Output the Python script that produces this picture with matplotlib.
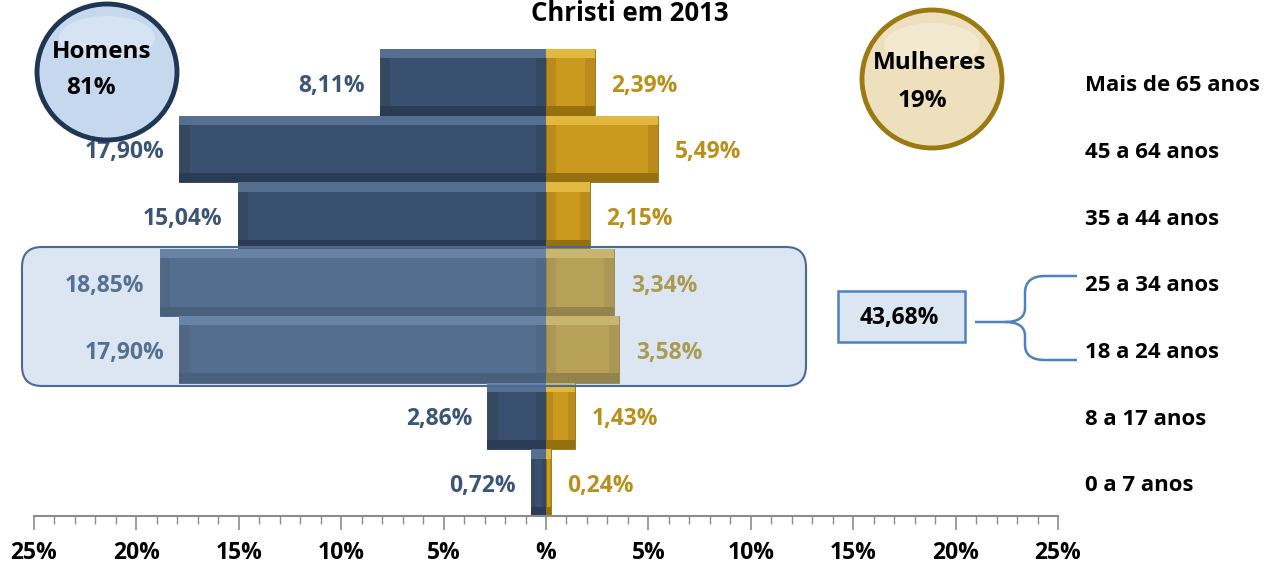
import matplotlib
matplotlib.use("Agg")
import matplotlib.pyplot as plt
from matplotlib.patches import Ellipse, FancyBboxPatch, Rectangle, PathPatch
from matplotlib.path import Path

# ---------------- data ----------------
categories = ["0 a 7 anos", "8 a 17 anos", "18 a 24 anos", "25 a 34 anos",
              "35 a 44 anos", "45 a 64 anos", "Mais de 65 anos"]
homens = [0.72, 2.86, 17.90, 18.85, 15.04, 17.90, 8.11]
mulheres = [0.24, 1.43, 3.58, 3.34, 2.15, 5.49, 2.39]
tick_values = [-25, -20, -15, -10, -5, 0, 5, 10, 15, 20, 25]
tick_labels = ["25%", "20%", "15%", "10%", "5%", "%", "5%", "10%", "15%", "20%", "25%"]
total_homens = "81%"
total_mulheres = "19%"
destaque = "43,68%"
title = "Christi em 2013"

W, H = 1281, 564
FONT = "Open Sans"
plt.rcParams["font.family"] = [FONT, "DejaVu Sans"]
plt.rcParams["font.weight"] = "bold"

fig = plt.figure(figsize=(W / 100, H / 100), dpi=100)
fig.patch.set_facecolor("white")


def fx(x):
    return x / W


def fy(y):
    return 1 - y / H


ax = fig.add_axes([fx(34), 48 / H, 1024 / W, 467 / H])
ax.set_xlim(-25, 25)
ax.set_ylim(-0.5, len(categories) - 0.5)

ypos = list(range(len(categories)))

men_face, men_top, men_bot, men_side = "#3A5070", "#566F90", "#2A3C55", "#34485F"
wom_face, wom_top, wom_bot, wom_side = "#C99A1E", "#E2B840", "#94700E", "#BA8B1A"


def draw_bars(values, sign, face, top, bot, side):
    neg = [sign * v for v in values]
    ax.barh(ypos, neg, height=1.0, color=side, edgecolor=bot, linewidth=0.6, zorder=2)
    ax.barh([y + 0.43 for y in ypos], neg, height=0.14, color=top, linewidth=0, zorder=2.1)
    ax.barh([y - 0.43 for y in ypos], neg, height=0.14, color=bot, linewidth=0, zorder=2.1)
    insets = [min(0.5, v * 0.25) for v in values]
    lefts = [sign * i for i in insets]
    widths = [sign * (v - 2 * i) for v, i in zip(values, insets)]
    ax.barh(ypos, widths, left=lefts, height=0.72, color=face, linewidth=0, zorder=2.2)


draw_bars(homens, -1, men_face, men_top, men_bot, men_side)
draw_bars(mulheres, 1, wom_face, wom_top, wom_bot, wom_side)

lab_fs = 16.5
for y, v in zip(ypos, homens):
    ax.text(-v - 0.75, y - 0.05, f"{v:.2f}%".replace(".", ","), ha="right", va="center",
            color="#3A5575", fontsize=lab_fs, fontweight="bold", zorder=3)
for y, v in zip(ypos, mulheres):
    ax.text(v + 0.8, y - 0.05, f"{v:.2f}%".replace(".", ","), ha="left", va="center",
            color="#B8901A", fontsize=lab_fs, fontweight="bold", zorder=3)

for y, c in zip(ypos, categories):
    ax.text(26.3, y - 0.05, c, ha="left", va="center", color="black",
            fontsize=16, fontweight="bold", clip_on=False)

for s in ["top", "left", "right"]:
    ax.spines[s].set_visible(False)
ax.spines["bottom"].set_color("#8C8C8C")
ax.spines["bottom"].set_linewidth(1.5)
ax.set_yticks([])
ax.set_xticks(tick_values)
ax.set_xticklabels(tick_labels, fontsize=16.5, fontweight="bold")
ax.set_xticks(range(-25, 26), minor=True)
ax.tick_params(axis="x", which="major", length=10, width=1.2, color="#8C8C8C", pad=8)
ax.tick_params(axis="x", which="minor", length=6, width=1.0, color="#8C8C8C")
ax.patch.set_alpha(0)

# highlight box (semi-transparent over bars)
bx0, by0, bx1, by1 = 22, 247, 806, 386
box = FancyBboxPatch((fx(bx0), fy(by1)), fx(bx1 - bx0), (by1 - by0) / H,
                     boxstyle=f"round,pad=0,rounding_size={20 / W}",
                     mutation_aspect=W / H, transform=fig.transFigure,
                     facecolor=(144 / 255, 176 / 255, 214 / 255, 0.315),
                     edgecolor="#4A6A95", linewidth=1.5, zorder=5)
fig.add_artist(box)

# 43,68% box
rb = Rectangle((fx(838), fy(342)), fx(965 - 838), (342 - 291) / H, transform=fig.transFigure,
               facecolor="#DCE6F2", edgecolor="#4F81BD", linewidth=1.8, zorder=5)
fig.add_artist(rb)
fig.text(fx(899), fy(318), destaque, ha="center", va="center", fontsize=16.5,
         fontweight="bold", color="black", zorder=6)

# brace
pts = [(1077, 276), (1045, 276), (1025, 276), (1025, 293), (1025, 308), (1025, 322), (1005, 322),
       (975, 322)]
codes_top = [Path.MOVETO, Path.LINETO, Path.CURVE3, Path.CURVE3, Path.LINETO, Path.CURVE3,
             Path.CURVE3, Path.LINETO]
pts2 = [(1005, 322), (1025, 322), (1025, 336), (1025, 345), (1025, 360), (1045, 360), (1077, 360)]
codes_bot = [Path.MOVETO, Path.CURVE3, Path.CURVE3, Path.LINETO, Path.CURVE3, Path.CURVE3,
             Path.LINETO]
for p, c in [(pts, codes_top), (pts2, codes_bot)]:
    path = Path([(fx(x), fy(y)) for x, y in p], c)
    fig.add_artist(PathPatch(path, transform=fig.transFigure, facecolor="none",
                             edgecolor="#4F81BD", linewidth=1.8, zorder=5))

# circles
c1 = Ellipse((fx(107), fy(72)), 140 / W, 136 / H, transform=fig.transFigure,
             facecolor="#C5D8EE", edgecolor="#1F3655", linewidth=3.5, zorder=6)
fig.add_artist(c1)
g1 = Ellipse((fx(107), fy(38)), 96 / W, 44 / H, transform=fig.transFigure,
             facecolor="white", alpha=0.3, linewidth=0, zorder=6.1)
fig.add_artist(g1)
fig.text(fx(102), fy(52), "Homens", ha="center", va="center", fontsize=17.5,
         fontweight="bold", color="black", zorder=7)
fig.text(fx(91), fy(88), total_homens, ha="center", va="center", fontsize=17.5,
         fontweight="bold", color="black", zorder=7)

c2 = Ellipse((fx(932), fy(79)), 140 / W, 138 / H, transform=fig.transFigure,
             facecolor="#EEE0BC", edgecolor="#9C7A12", linewidth=3.5, zorder=6)
fig.add_artist(c2)
g2 = Ellipse((fx(932), fy(45)), 96 / W, 44 / H, transform=fig.transFigure,
             facecolor="white", alpha=0.3, linewidth=0, zorder=6.1)
fig.add_artist(g2)
fig.text(fx(930), fy(63), "Mulheres", ha="center", va="center", fontsize=17.5,
         fontweight="bold", color="black", zorder=7)
fig.text(fx(922), fy(101), total_mulheres, ha="center", va="center", fontsize=17.5,
         fontweight="bold", color="black", zorder=7)

# title (at the top edge, as in the reference)
fig.text(fx(630), fy(21), title, ha="center", va="baseline", fontsize=18.5,
         fontweight="bold", color="black")

fig.savefig("out.png", dpi=100)
